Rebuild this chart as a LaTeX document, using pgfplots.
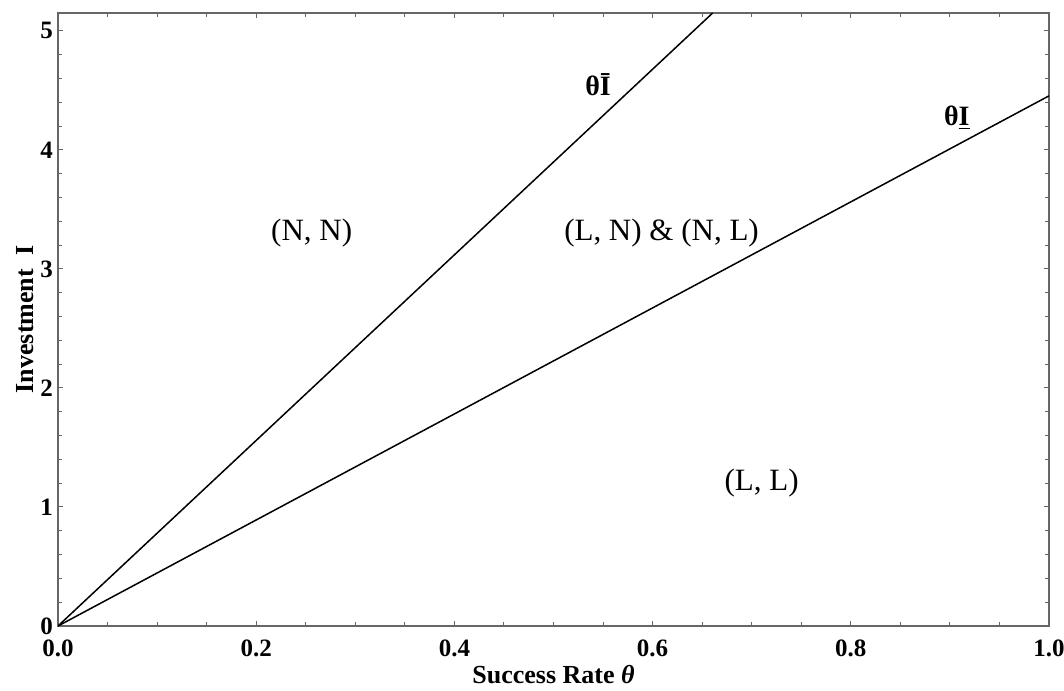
\documentclass[border=0pt]{standalone}
\usepackage{pgfplots}
\pgfplotsset{compat=1.18}
\usepackage{fontspec}
\setmainfont{Liberation Serif}
\begin{document}
\begin{tikzpicture}
\begin{axis}[
  name=ax,
  scale only axis,
  width=495.5pt, height=306.5pt,
  xmin=0, xmax=1, ymin=0, ymax=5.15,
  xtick={0,0.2,0.4,0.6,0.8,1.0},
  ytick={0,1,2,3,4,5},
  minor x tick num=3,
  minor y tick num=4,
  tick align=inside,
  major tick length=2.5pt,
  minor tick length=1.8pt,
  axis line style={gray!80!black, line width=0.7pt},
  every tick/.style={gray!80!black, line width=0.5pt},
  xticklabel style={/pgf/number format/fixed, /pgf/number format/fixed zerofill, /pgf/number format/precision=1},
  /pgf/number format/assume math mode=true,
  tick label style={font=\fontsize{12.5pt}{14pt}\selectfont\bfseries},
  xticklabel style={yshift=-3.5pt},
  yticklabel style={xshift=1pt},
  xlabel={\textbf{Success Rate \textit{θ}}},
  ylabel={\textbf{Investment~~I}},
  label style={font=\fontsize{13pt}{15pt}\selectfont},
  xlabel style={yshift=2.5pt},
  ylabel style={yshift=-3.5pt},
  clip=true,
]
\addplot[black, line width=0.75pt] coordinates {(0,0) (0.6606,5.15)};
\addplot[black, line width=0.75pt] coordinates {(0,0) (1,4.454)};
\node[font=\fontsize{15.5pt}{17pt}\selectfont] at (axis cs:0.256,3.30) {(N, N)};
\node[font=\fontsize{15.5pt}{17pt}\selectfont] at (axis cs:0.609,3.30) {(L, N) \& (N, L)};
\node[font=\fontsize{15.5pt}{17pt}\selectfont] at (axis cs:0.710,1.20) {(L, L)};
\node[font=\fontsize{14pt}{16pt}\selectfont\bfseries] at (axis cs:0.545,4.55) {θ\={I}};
\node[font=\fontsize{14pt}{16pt}\selectfont\bfseries] at (axis cs:0.907,4.27) {θ\underline{I}};
\end{axis}
\pgfresetboundingbox
\path[use as bounding box] ([xshift=-29pt,yshift=-32pt]ax.south west) rectangle ([xshift=7.5pt,yshift=6.5pt]ax.north east);
\end{tikzpicture}
\end{document}
